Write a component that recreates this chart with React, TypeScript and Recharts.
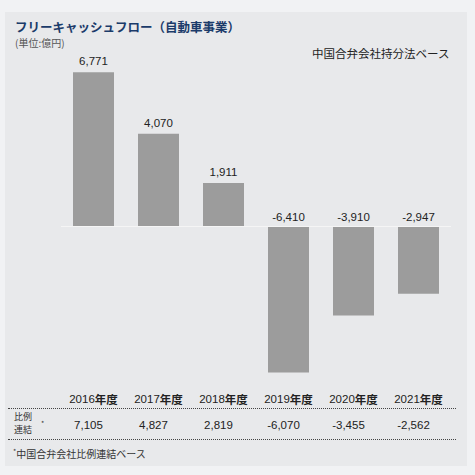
import { BarChart, Bar, XAxis, YAxis, ReferenceLine, LabelList } from "recharts";

// Free cash flow, automotive business (100M yen)
const years = ["2016", "2017", "2018", "2019", "2020", "2021"];
const fcf = [6771, 4070, 1911, -6410, -3910, -2947];
const ratioConsol = [7105, 4827, 2819, -6070, -3455, -2562];
const yTicks = [-7000, 7000];

const data = years.map((year, i) => ({ year, fcf: fcf[i], ratio: ratioConsol[i] }));

const LATIN = '"Liberation Sans", "Noto Sans CJK JP", sans-serif';
const JP = '"Noto Sans CJK JP", "Liberation Sans", sans-serif';
const fmt = (v: number) => v.toLocaleString("en-US");

function YearTick({ x, y, payload }: any) {
  return (
    <text x={x} y={y + 13} textAnchor="middle" dominantBaseline="central" fontSize={11.5} fill="#222" fontFamily={LATIN} fontWeight={400}>
      <tspan fontWeight={400}>{payload.value}</tspan>
      <tspan fontFamily={JP} fontWeight={700}>年度</tspan>
    </text>
  );
}

function RatioTick({ x, y, index }: any) {
  return (
    <text x={x - 5} y={y + 11} textAnchor="middle" dominantBaseline="central" fontSize={11.5} fill="#222" fontFamily={LATIN}>
      {fmt(ratioConsol[index])}
    </text>
  );
}

function BarValue({ x, y, width, height, value }: any) {
  const top = Math.min(y, y + height);
  const dy = value >= 0 ? -11 : -10;
  return (
    <text x={x + width / 2} y={top + dy} textAnchor="middle" dominantBaseline="central" fontSize={11.5} fill="#222" fontFamily={LATIN}>
      {fmt(value)}
    </text>
  );
}

export default function App() {
  return (
    <div style={{ position: "absolute", left: 0, top: 0, width: 475, height: 475, background: "#f1f2f4", fontFamily: JP }}>
      <div style={{ position: "absolute", left: 5, top: 12, width: 462, height: 454, background: "#e8e9eb" }} />
      <div style={{ position: "absolute", left: 15, top: 17, fontSize: 12.5, fontWeight: "bold", color: "#1b3b6a", whiteSpace: "nowrap" }}>
        フリーキャッシュフロー（自動車事業）
      </div>
      <div style={{ position: "absolute", left: 15, top: 35, fontSize: 10, color: "#555", whiteSpace: "nowrap" }}>
        (単位:億円)
      </div>
      <div style={{ position: "absolute", left: 312, top: 45, fontSize: 11.5, color: "#222", whiteSpace: "nowrap" }}>
        中国合弁会社持分法ベース
      </div>
      <div style={{ position: "absolute", left: 0, top: 0 }}>
        <BarChart width={475} height={475} data={data} margin={{ top: 67, right: 24, bottom: 31, left: 61 }} barCategoryGap={12}>
          <YAxis hide domain={[yTicks[0], yTicks[1]]} ticks={yTicks} />
          <XAxis dataKey="year" axisLine={false} tickLine={false} tickSize={0} tickMargin={0} height={28} tick={<YearTick />} interval={0} />
          <XAxis xAxisId="t" dataKey="year" axisLine={false} tickLine={false} tickSize={0} tickMargin={0} height={30} tick={<RatioTick />} interval={0} />
          <ReferenceLine y={0} stroke="#f5f5f5" strokeWidth={1} />
          <Bar dataKey="fcf" fill="#9c9c9c" isAnimationActive={false}>
            <LabelList dataKey="fcf" content={<BarValue />} />
          </Bar>
        </BarChart>
      </div>
      <div style={{ position: "absolute", left: 8, top: 408, width: 448, borderTop: "1px dotted #444" }} />
      <div style={{ position: "absolute", left: 8, top: 439, width: 448, borderTop: "1px dotted #444" }} />
      <div style={{ position: "absolute", left: 14, top: 410, fontSize: 9, lineHeight: "13px", color: "#333" }}>比例</div>
      <div style={{ position: "absolute", left: 14, top: 423, fontSize: 9, lineHeight: "13px", color: "#333" }}>連結</div>
      <div style={{ position: "absolute", left: 41, top: 420, fontSize: 7, lineHeight: "7px", color: "#333" }}>*</div>
      <div style={{ position: "absolute", left: 13, top: 446, fontSize: 10, color: "#333", whiteSpace: "nowrap" }}>
        <span style={{ fontSize: 7, verticalAlign: "top" }}>*</span>中国合弁会社比例連結ベース
      </div>
    </div>
  );
}
